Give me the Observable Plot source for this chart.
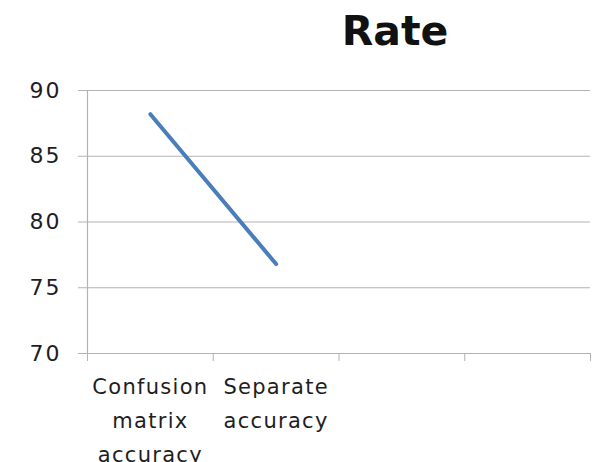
<!DOCTYPE html>
<html>
<head>
<meta charset="utf-8">
<script src="https://cdn.jsdelivr.net/npm/d3@7"></script>
<script src="https://cdn.jsdelivr.net/npm/@observablehq/plot@0.6"></script>
<style>
  html, body { margin: 0; padding: 0; background: #fff; }
  #chart svg { display: block; }
  #chart g[aria-label="y-axis tick label"] text { letter-spacing: 2px; }
  #chart g[aria-label="x-axis tick label"] text { letter-spacing: 1.3px; }
</style>
</head>
<body>
<div id="chart"></div>
<script>
// Category slots along the x axis (the last two are empty)
const categories = ["Confusion\nmatrix\naccuracy", "Separate\naccuracy", "", ""];
// Series values (only the first two categories have data)
const rate = [88.2, 76.8];
// Y axis ticks
const yTicks = [70, 75, 80, 85, 90];
const title = "Rate";

// Each category sits in the middle of its slot: index + 0.5
const points = rate.map((v, i) => ({x: i + 0.5, y: v}));
const slotEdges = d3.range(categories.length + 1);
const slotCenters = categories.map((_, i) => i + 0.5);

const font = "DejaVu Sans, Verdana, sans-serif";
const gridColor = "#b3b3b3";
const textColor = "#1e1e1e";

const chart = Plot.plot({
  width: 595,
  height: 462,
  marginLeft: 87,
  marginRight: 5,
  marginTop: 90,
  marginBottom: 109,
  style: {fontFamily: font, background: "#fff", color: textColor},
  x: {type: "linear", domain: [0, categories.length], label: null},
  y: {domain: [70, 90], label: null},
  marks: [
    // horizontal gridlines
    Plot.ruleY(yTicks, {stroke: gridColor, strokeWidth: 1.2}),
    // vertical axis line
    Plot.ruleX([0], {stroke: gridColor, strokeWidth: 1.2}),
    // y axis ticks and labels
    Plot.axisY({
      ticks: yTicks,
      tickSize: 9,
      tickPadding: 17,
      stroke: gridColor,
      strokeOpacity: 1,
      fontSize: 22,
      fill: textColor,
      label: null
    }),
    // x axis tick marks at slot edges
    Plot.axisX({
      ticks: slotEdges,
      tickSize: 8,
      tickFormat: () => "",
      stroke: gridColor,
      strokeOpacity: 1,
      label: null
    }),
    // x axis category labels at slot centres
    Plot.axisX({
      ticks: slotCenters,
      tickSize: 0,
      tickPadding: 17,
      tickFormat: (d) => categories[Math.floor(d)],
      fontSize: 21,
      lineHeight: 1.6,
      fill: textColor,
      label: null
    }),
    // the data line
    Plot.line(points, {x: "x", y: "y", stroke: "#4a7ebb", strokeWidth: 4, strokeLinecap: "round"}),
    // chart title
    Plot.text([title], {
      frameAnchor: "top",
      dy: -75,
      dx: 56,
      fontSize: 41,
      fontWeight: "bold",
      fill: "#111"
    })
  ]
});

document.getElementById("chart").append(chart);
</script>
</body>
</html>
